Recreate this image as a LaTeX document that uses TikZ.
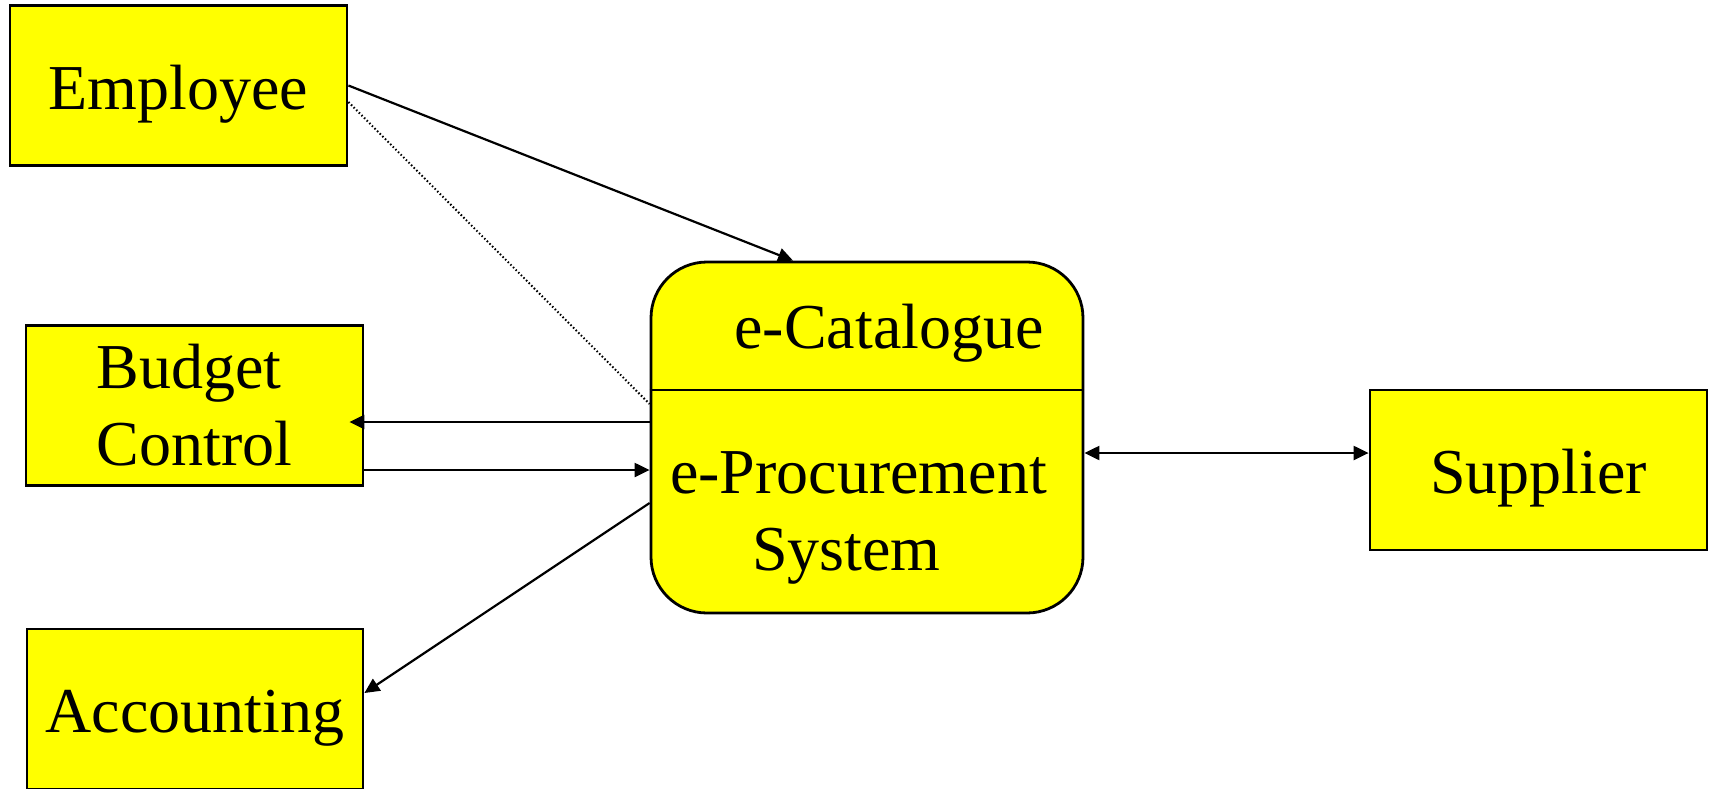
\documentclass[tikz,border=0pt]{standalone}
\usepackage{fontspec}
\setmainfont{Liberation Serif}
\usetikzlibrary{arrows.meta}

\definecolor{boxyellow}{RGB}{255,255,0}

\tikzset{
  box/.style = {draw, line width = 2.8pt, fill = boxyellow, inner sep = 0pt,
    minimum width = 337pt, minimum height = 160pt},
  oneline/.style = {text height = 47pt, text depth = 0pt},
  txt/.style = {inner sep = 0pt, font = \fontsize{64}{77}\selectfont},
  tip/.tip = {Triangle[length = 15pt, width = 14pt]},
  link/.style = {line width = 2.2pt, -tip},
}

\begin{document}
\begin{tikzpicture}[x = 1pt, y = -1pt, every node/.style = {txt}]
\clip (0,0) rectangle (1714,788);

\node [box, oneline] (emp) at (178.5,85.5) {Employee};
\node [box, align = left] (budget) at (194.5,405.5) {Budget\\Control};
\node [box, oneline, minimum width = 336pt] (acc) at (195,709) {Accounting};
\node [box, oneline] (sup) at (1538.5,470) {Supplier};

\node [box, rounded corners = 56pt, minimum width = 432pt, minimum height = 351pt] (proc) at (867,437.5) {};
\draw [line width = 2.5pt] ([yshift = 47.5pt]proc.west) -- ([yshift = 47.5pt]proc.east);
\node [anchor = base] (cat) at (889,348) {e-Catalogue};
\node [align = left] (ptext) at (858.5,517.5) {e-Procurement\\\hspace*{82pt}System};

\draw [link] (emp.east) -- ([xshift = -74pt]proc.north);
\draw [line width = 2pt, dash pattern = on 1.5pt off 2.2pt] ([yshift = -16.5pt]emp.east) -- ([yshift = 33.5pt]proc.west);

\coordinate (bin) at ([yshift = 15.5pt]proc.west -| budget.east);
\draw [link] ([yshift = 15.5pt]proc.west) -- ([xshift = -15pt]bin);
\draw [link] ([yshift = -64.5pt]budget.east) -- ([yshift = -64.5pt]budget.east -| proc.west);
\draw [link] ([yshift = -65.5pt]proc.west) -- ([yshift = 16pt]acc.east);
\draw [link, tip-tip] ([yshift = -15.5pt]proc.east) -- ([yshift = -15.5pt]proc.east -| sup.west);
\end{tikzpicture}
\end{document}
